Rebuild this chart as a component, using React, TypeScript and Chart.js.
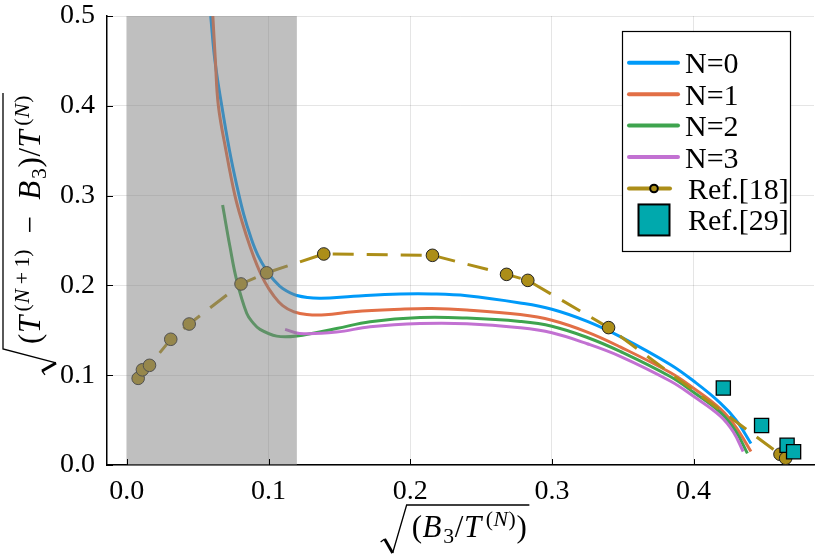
import { useEffect, useRef } from 'react';
import { Chart, registerables } from 'chart.js';

Chart.register(...registerables);

// axis ticks and shaded band
const X_TICKS = [0, 0.1, 0.2, 0.3, 0.4];
const Y_TICKS = [0, 0.1, 0.2, 0.3, 0.4, 0.5];
const SHADE = [0, 0.12];

// N=0
const n0X = [0.0592, 0.0622, 0.067, 0.0725, 0.0775, 0.0825, 0.0875, 0.0925, 0.0987, 0.104, 0.11, 0.12, 0.136, 0.16, 0.193, 0.215, 0.24, 0.2776, 0.3, 0.325, 0.3482, 0.3835, 0.4, 0.4189, 0.43, 0.4405];
const n0Y = [0.5, 0.45, 0.4, 0.35, 0.312, 0.279, 0.2535, 0.2335, 0.2165, 0.2055, 0.1965, 0.1888, 0.1858, 0.188, 0.1904, 0.1905, 0.1885, 0.1805, 0.1735, 0.16, 0.143, 0.112, 0.0935, 0.069, 0.05, 0.024];
// N=1
const n1X = [0.0607, 0.0625, 0.0646, 0.07, 0.0763, 0.0815, 0.087, 0.092, 0.0975, 0.1034, 0.11, 0.118, 0.127, 0.14, 0.16, 0.193, 0.215, 0.24, 0.2776, 0.3, 0.325, 0.3482, 0.3835, 0.4, 0.4189, 0.43, 0.4405];
const n1Y = [0.5, 0.45, 0.4, 0.35, 0.3, 0.27, 0.243, 0.222, 0.2035, 0.189, 0.1775, 0.1705, 0.1675, 0.1672, 0.1707, 0.1734, 0.1742, 0.1726, 0.1675, 0.1612, 0.148, 0.1315, 0.103, 0.0855, 0.0625, 0.042, 0.015];
// N=2
const n2X = [0.0676, 0.0728, 0.0775, 0.0846, 0.089, 0.094, 0.1058, 0.12, 0.148, 0.1717, 0.207, 0.24, 0.2776, 0.3, 0.325, 0.3482, 0.3835, 0.4, 0.4189, 0.43, 0.438];
const n2Y = [0.2895, 0.243, 0.206, 0.169, 0.1585, 0.151, 0.1435, 0.1437, 0.152, 0.1596, 0.1642, 0.1636, 0.1598, 0.1545, 0.142, 0.1265, 0.0985, 0.081, 0.0585, 0.037, 0.013];
// N=3
const n3X = [0.1117, 0.122, 0.148, 0.1717, 0.207, 0.24, 0.2776, 0.3, 0.325, 0.3482, 0.3835, 0.4, 0.4189, 0.428, 0.435];
const n3Y = [0.151, 0.1465, 0.148, 0.154, 0.1576, 0.1574, 0.1528, 0.1472, 0.135, 0.121, 0.0935, 0.0765, 0.0545, 0.037, 0.015];
// Ref.[18]
const r18X = [0.008, 0.011, 0.016, 0.031, 0.044, 0.0806, 0.0987, 0.139, 0.2157, 0.268, 0.283, 0.34, 0.461, 0.465];
const r18Y = [0.0965, 0.106, 0.111, 0.14, 0.157, 0.2016, 0.214, 0.235, 0.2335, 0.2123, 0.2056, 0.153, 0.012, 0.0075];
// Ref.[29]
const r29X = [0.421, 0.448, 0.466, 0.4706];
const r29Y = [0.0857, 0.044, 0.022, 0.0148];

const LABELS = ['N=0', 'N=1', 'N=2', 'N=3', 'Ref.[18]', 'Ref.[29]'];
const COLORS = ['#009af9', '#e26f46', '#3ea44e', '#c271d2', '#ac8e18', '#00a9ad'];

const FONT = '"Liberation Serif", serif';

const pts = (xs: number[], ys: number[]) => xs.map((x, i) => ({ x, y: ys[i] }));

type Piece = [string, 'n' | 'i' | 'sup' | 'supi' | 'sub'];

const X_TITLE: Piece[] = [
  ['(', 'n'], ['B', 'i'], ['3', 'sub'], ['/', 'n'], ['T', 'i'],
  ['(', 'sup'], ['N', 'supi'], [')', 'sup'], [')', 'n'],
];
const Y_TITLE: Piece[] = [
  ['(', 'n'], ['T', 'i'], ['(', 'sup'], ['N', 'supi'], ['\u2009+\u20091)', 'sup'],
  ['\u2002\u2212\u2002', 'n'], ['B', 'i'], ['3', 'sub'], [')', 'n'], ['/', 'n'], ['T', 'i'],
  ['(', 'sup'], ['N', 'supi'], [')', 'sup'],
];

function mathWidth(ctx: CanvasRenderingContext2D, pieces: Piece[], size: number, draw: boolean) {
  let cx = 0;
  let prevItalic = false;
  for (const [t, k] of pieces) {
    const small = k !== 'n' && k !== 'i';
    const fs = small ? size * 0.7 : size;
    const italic = k === 'i' || k === 'supi';
    if (k === 'sup' && prevItalic) cx += size * 0.08;
    ctx.font = `${italic ? 'italic ' : ''}${fs}px ${FONT}`;
    const dy = k === 'sup' || k === 'supi' ? -size * 0.36 : k === 'sub' ? size * 0.2 : 0;
    if (draw) ctx.fillText(t, cx, dy);
    cx += ctx.measureText(t).width + (italic && !small ? size * 0.04 : 0) + size * 0.02;
    prevItalic = k === 'i';
  }
  return cx;
}

function drawSqrt(ctx: CanvasRenderingContext2D, pieces: Piece[], size: number, vin: number) {
  ctx.fillStyle = '#000';
  ctx.textBaseline = 'alphabetic';
  ctx.textAlign = 'left';
  const w = mathWidth(ctx, pieces, size, true);
  ctx.strokeStyle = '#000';
  ctx.lineCap = 'butt';
  ctx.lineWidth = 1.3;
  ctx.beginPath();
  ctx.moveTo(w + 2, vin);
  ctx.lineTo(-5, vin);
  ctx.lineTo(-19, 16);
  ctx.stroke();
  ctx.lineWidth = 2.8;
  ctx.beginPath();
  ctx.moveTo(-19, 16);
  ctx.lineTo(-27, 2);
  ctx.stroke();
  ctx.lineWidth = 1.2;
  ctx.beginPath();
  ctx.moveTo(-27, 2);
  ctx.lineTo(-31, 5);
  ctx.stroke();
  return w;
}

const decorPlugin = {
  id: 'decor',
  afterDatasetsDraw(chart: any) {
    const { ctx, chartArea } = chart;
    const xs = chart.scales.x;
    const a = xs.getPixelForValue(SHADE[0]);
    const b = xs.getPixelForValue(SHADE[1]);
    ctx.save();
    ctx.fillStyle = 'rgba(128,128,128,0.5)';
    ctx.fillRect(a, chartArea.top, b - a, chartArea.bottom - chartArea.top);
    ctx.restore();
  },
  afterDraw(chart: any) {
    const { ctx, chartArea } = chart;
    const xs = chart.scales.x;
    const ys = chart.scales.y;
    ctx.save();
    // inward ticks
    ctx.strokeStyle = '#000';
    ctx.lineWidth = 1;
    ctx.beginPath();
    X_TICKS.forEach((v) => {
      const p = Math.round(xs.getPixelForValue(v)) + 0.5;
      ctx.moveTo(p, chartArea.bottom);
      ctx.lineTo(p, chartArea.bottom - 6);
    });
    Y_TICKS.forEach((v) => {
      const p = Math.round(ys.getPixelForValue(v)) + 0.5;
      ctx.moveTo(chartArea.left, p);
      ctx.lineTo(chartArea.left + 6, p);
    });
    ctx.stroke();

    // legend
    const lx = 622.5, ly = 31.5, lw = 168, lh = 220;
    ctx.fillStyle = '#fff';
    ctx.fillRect(lx, ly, lw, lh);
    ctx.strokeStyle = '#000';
    ctx.lineWidth = 1.2;
    ctx.strokeRect(lx, ly, lw, lh);
    ctx.font = `30px ${FONT}`;
    ctx.textBaseline = 'alphabetic';
    ctx.textAlign = 'left';
    LABELS.forEach((lab, i) => {
      const cy = 62.7 + i * 31.45;
      const col = COLORS[i];
      if (i < 4) {
        ctx.strokeStyle = col;
        ctx.lineWidth = 4;
        ctx.lineCap = 'round';
        ctx.beginPath();
        ctx.moveTo(629, cy);
        ctx.lineTo(678, cy);
        ctx.stroke();
      } else if (i === 4) {
        ctx.strokeStyle = col;
        ctx.lineWidth = 4;
        ctx.lineCap = 'round';
        ctx.beginPath();
        ctx.moveTo(629, cy);
        ctx.lineTo(670, cy);
        ctx.stroke();
        ctx.beginPath();
        ctx.arc(654, cy, 3.8, 0, Math.PI * 2);
        ctx.fillStyle = col;
        ctx.fill();
        ctx.lineWidth = 2;
        ctx.strokeStyle = '#000';
        ctx.stroke();
      } else {
        ctx.fillStyle = col;
        ctx.fillRect(638.5, cy - 15.5, 31, 31);
        ctx.lineWidth = 2;
        ctx.strokeStyle = '#000';
        ctx.strokeRect(638.5, cy - 15.5, 31, 31);
      }
      ctx.fillStyle = '#000';
      ctx.fillText(lab, i < 4 ? 685 : 688, cy + 10.5);
    });

    // x axis title
    const midX = (chartArea.left + chartArea.right) / 2;
    const xw = mathWidth(ctx, X_TITLE, 31, false);
    ctx.save();
    ctx.translate(midX - (xw - 30) / 2 - 6, 537);
    drawSqrt(ctx, X_TITLE, 31, -32);
    ctx.restore();

    // y axis title
    const midY = (chartArea.top + chartArea.bottom) / 2;
    const yw = mathWidth(ctx, Y_TITLE, 31, false);
    ctx.save();
    ctx.translate(40, midY + (yw - 30) / 2 - 6);
    ctx.rotate(-Math.PI / 2);
    drawSqrt(ctx, Y_TITLE, 31, -37);
    ctx.restore();

    ctx.restore();
  },
};

function PlotCard() {
  const canvas = useRef<HTMLCanvasElement | null>(null);

  useEffect(() => {
    if (!canvas.current) return;

    const curve = (i: number, xs: number[], ys: number[]) => ({
      label: LABELS[i],
      data: pts(xs, ys),
      borderColor: COLORS[i],
      backgroundColor: COLORS[i],
      borderWidth: 3,
      pointRadius: 0,
      tension: 0.4,
      fill: false,
      order: 10 - i,
    });

    const chart = new Chart(canvas.current, {
      type: 'line',
      data: {
        datasets: [
          curve(0, n0X, n0Y),
          curve(1, n1X, n1Y),
          curve(2, n2X, n2Y),
          curve(3, n3X, n3Y),
          {
            label: LABELS[4],
            data: pts(r18X, r18Y),
            borderColor: COLORS[4],
            backgroundColor: COLORS[4],
            borderWidth: 3,
            borderDash: [21, 13],
            pointRadius: 6.3,
            pointBackgroundColor: COLORS[4],
            pointBorderColor: '#222',
            pointBorderWidth: 1,
            tension: 0,
            fill: false,
            order: 2,
          },
          {
            label: LABELS[5],
            data: pts(r29X, r29Y),
            showLine: false,
            pointStyle: 'rect',
            pointRadius: 10,
            pointBackgroundColor: COLORS[5],
            pointBorderColor: '#000',
            pointBorderWidth: 1.3,
            borderColor: '#000',
            backgroundColor: COLORS[5],
            order: 1,
          },
        ],
      },
      options: {
        responsive: false,
        animation: false,
        layout: { padding: { top: 16, right: 16, left: 0, bottom: 0 } },
        plugins: {
          legend: { display: false },
          tooltip: { enabled: false },
        },
        scales: {
          x: {
            type: 'linear',
            min: -0.014,
            max: 0.485,
            afterBuildTicks: (s: any) => {
              s.ticks = X_TICKS.map((v) => ({ value: v }));
            },
            afterFit: (s: any) => {
              s.height = 89;
              s.paddingLeft = 0;
              s.paddingRight = 0;
            },
            grid: { color: 'rgba(0,0,0,0.1)', lineWidth: 1, drawTicks: false },
            border: { display: true, color: '#000', width: 1.5 },
            ticks: {
              padding: 10,
              color: '#000',
              font: { family: FONT, size: 28 },
              maxRotation: 0,
              autoSkip: false,
              callback: (v: any) => Number(v).toFixed(1),
            },
          },
          y: {
            type: 'linear',
            min: 0,
            max: 0.5,
            afterBuildTicks: (s: any) => {
              s.ticks = Y_TICKS.map((v) => ({ value: v }));
            },
            afterFit: (s: any) => {
              s.width = 107;
              s.paddingTop = 0;
              s.paddingBottom = 0;
            },
            grid: { color: 'rgba(0,0,0,0.1)', lineWidth: 1, drawTicks: false },
            border: { display: true, color: '#000', width: 1.5 },
            ticks: {
              padding: 12,
              color: '#000',
              font: { family: FONT, size: 28 },
              autoSkip: false,
              callback: (v: any) => Number(v).toFixed(1),
            },
          },
        },
      },
      plugins: [decorPlugin],
    });

    return () => chart.destroy();
  }, [canvas]);

  return (
    <div style={{ position: 'absolute', left: 0, top: 0, width: 830, height: 554, background: '#fff' }}>
      <canvas ref={canvas} width={830} height={554}></canvas>
    </div>
  );
}

export default PlotCard;
